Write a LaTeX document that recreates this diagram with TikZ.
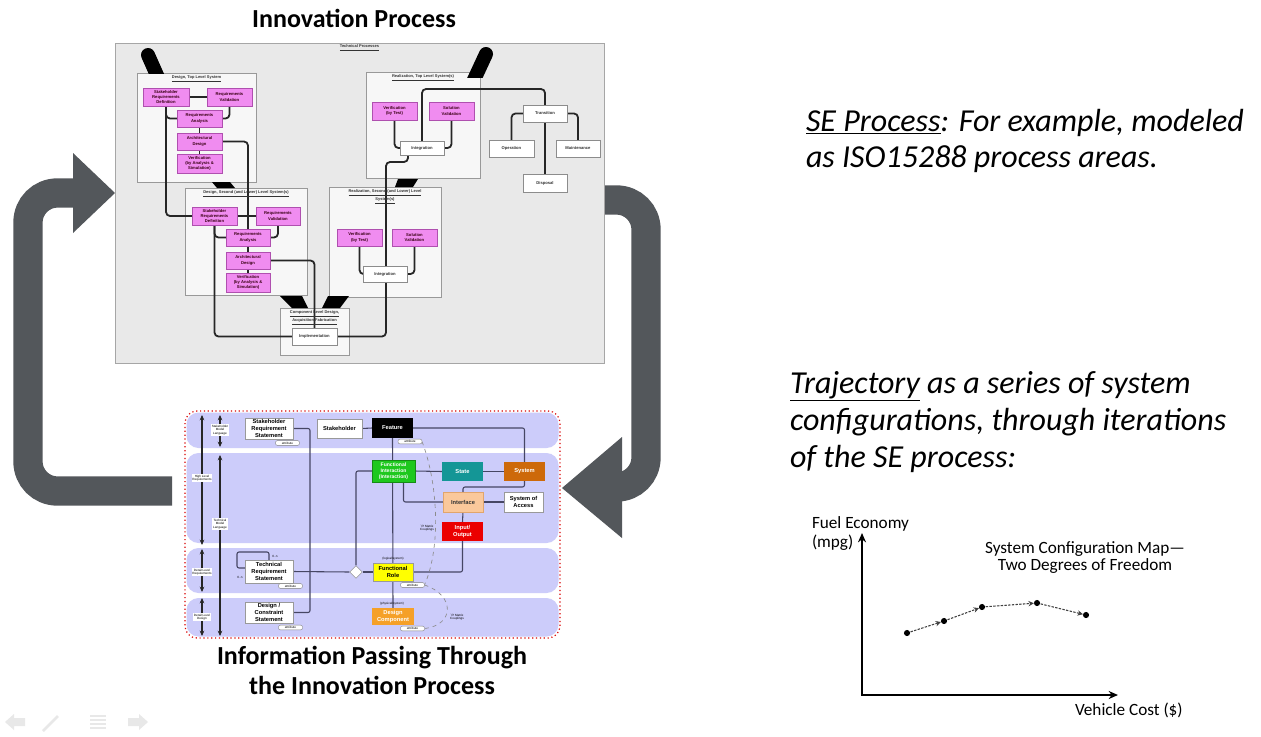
\documentclass[tikz,border=0pt]{standalone}
\usepackage{fontspec}
\setmainfont{Carlito}
\newfontfamily\arialf{Liberation Sans}
\usetikzlibrary{arrows.meta,calc,shapes.geometric}
\pgfdeclarelayer{back}
\pgfdeclarelayer{links}
\pgfsetlayers{back,links,main}
\definecolor{arrowgray}{RGB}{83,87,91}
\definecolor{pinkc}{RGB}{240,140,240}
\definecolor{pinkd}{RGB}{175,80,175}
\definecolor{panelc}{RGB}{233,233,233}
\definecolor{subc}{RGB}{247,247,247}
\definecolor{lav}{RGB}{204,204,250}
\definecolor{linkb}{RGB}{70,70,100}
\definecolor{fgreen}{RGB}{30,200,30}
\definecolor{fteal}{RGB}{20,150,150}
\definecolor{forange}{RGB}{205,105,10}
\definecolor{fpeach}{RGB}{250,200,155}
\definecolor{fred}{RGB}{235,0,0}
\definecolor{fyellow}{RGB}{255,255,0}
\definecolor{fdc}{RGB}{245,160,40}
\newcommand{\bx}[7]{\node[#6, minimum width={(#4-#2)*0.75pt}, minimum height={(#5-#3)*0.75pt}] (#1) at ({(#2+#4)/2},{(#3+#5)/2}) {#7};}
\newcommand{\ttiny}{\arialf\bfseries\fontsize{3.1}{3.9}\selectfont}
\newcommand{\ttitle}{\arialf\bfseries\fontsize{3.0}{3.6}\selectfont}
\newcommand{\tsmall}{\arialf\bfseries\fontsize{4.3}{5.0}\selectfont}
\newcommand{\tmicro}{\arialf\fontsize{2.3}{2.7}\selectfont}
\begin{document}
\begin{tikzpicture}[x=0.75pt,y=-0.75pt,
  box/.style={inner sep=0pt,outer sep=0pt,align=center},
  panel/.style={box,draw=black!35,fill=panelc,line width=0.6pt},
  sub/.style={box,draw=black!40,fill=subc,line width=0.5pt},
  pk/.style={box,draw=pinkd,fill=pinkc,line width=0.4pt,font=\ttiny,text=black!70!purple},
  wt/.style={box,draw=black!45,fill=white,line width=0.5pt,font=\ttiny,text=black!80},
  ptitle/.style={box,font=\ttitle,text=black!80,anchor=north},
  link/.style={draw=black!85,line width=1.35pt,rounded corners=3pt},
  bigarrow/.style={draw=arrowgray,line width=22pt,rounded corners=22pt},
  bnode/.style={box,line width=0.5pt,font=\tsmall},
  blink/.style={draw=linkb,line width=0.8pt,rounded corners=1.5pt},
  tag/.style={box,draw=black!50,fill=white,rounded corners=1.5pt,line width=0.3pt,font=\tmicro,minimum width=18pt,minimum height=3.6pt},
  lbl/.style={box,fill=white,font=\tmicro,inner sep=0.7pt},
  vax/.style={draw=black!85,line width=0.9pt,{Stealth[length=4pt,width=3.5pt]}-{Stealth[length=4pt,width=3.5pt]}},
  traj/.style={draw=black!75,line width=0.8pt,dash pattern=on 1.8pt off 1pt,-{Stealth[length=4pt,width=4pt]},shorten >=2.4pt},
  txt/.style={inner sep=0pt,outer sep=0pt},
]
\useasboundingbox (0,0) rectangle (1261,736);

% ---------- headings ----------
\node[txt,anchor=base,font=\bfseries\fontsize{19.5}{22}\selectfont] (h1) at (354,27) {Innovation Process};
\node[txt,anchor=base,font=\bfseries\fontsize{19.5}{22}\selectfont] (h2) at (372,664) {Information Passing Through};
\node[txt,anchor=base,font=\bfseries\fontsize{19.5}{22}\selectfont] (h3) at (372,694) {the Innovation Process};

% ---------- big arrows and panels ----------
\begin{pgfonlayer}{back}
\fill[white] (0,0) rectangle (1261,736);
\draw[bigarrow] (172,491) -- (28,491) -- (28,193) -- (80,193);
\fill[arrowgray] (73,153) -- (115,193) -- (73,233) -- cycle;
\draw[bigarrow] (603,200) -- (646,200) -- (646,487) -- (605,487);
\fill[arrowgray] (622,437) -- (562,488) -- (622,538) -- cycle;

\bx{tp}{115}{43}{604}{363}{panel}{}
\bx{dtop}{137}{73}{256}{182}{sub}{}
\bx{dsec}{185}{188}{307}{295}{sub}{}
\bx{rtop}{366}{72}{480}{178}{sub}{}
\bx{rsec}{329}{187}{441}{297}{sub}{}
\bx{comp}{280}{308}{349}{355}{sub}{}

% bottom diagram lanes
\fill[white,rounded corners=9pt] (185,411) rectangle (560,638);
\fill[lav,rounded corners=9pt] (186.5,412.5) rectangle (558.5,448);
\fill[lav,rounded corners=9pt] (186.5,453) rectangle (558.5,543);
\fill[lav,rounded corners=9pt] (186.5,548) rectangle (558.5,593);
\fill[lav,rounded corners=9pt] (186.5,598) rectangle (558.5,636.5);
\draw[red!85!black,dotted,line width=0.9pt,rounded corners=9pt] (185,411) rectangle (560,638);
\end{pgfonlayer}

% panel titles
\node[ptitle] (t0) at (359.5,45) {\underline{Technical Processes}};
\node[ptitle] (t1) at (196.5,76) {\underline{Design, Top Level System}};
\node[ptitle] (t2) at (246,191) {\underline{Design, Second (and Lower) Level System(s)}};
\node[ptitle] (t3) at (423,75) {\underline{Realization, Top Level System(s)}};
\node[ptitle] (t4) at (385,190) {\underline{Realization, Second (and Lower) Level}\\\underline{System(s)}};
\node[ptitle] (t5) at (314.5,311) {\underline{Component Level Design,}\\\underline{Acquisition/Fabrication}};

% process boxes
\bx{srd1}{143}{88}{189}{106}{pk}{Stakeholder\\Requirements\\Definition}
\bx{rv1}{207}{88}{252}{106}{pk}{Requirements\\Validation}
\bx{ra1}{177}{110}{222}{127}{pk}{Requirements\\Analysis}
\bx{ad1}{177}{133}{222}{150}{pk}{Architectural\\Design}
\bx{vf1}{177}{154}{222}{173}{pk}{Verification\\(by Analysis \&\\Simulation)}
\bx{srd2}{192}{207}{237}{225}{pk}{Stakeholder\\Requirements\\Definition}
\bx{rv2}{256}{207}{300}{225}{pk}{Requirements\\Validation}
\bx{ra2}{226}{229}{270}{246}{pk}{Requirements\\Analysis}
\bx{ad2}{226}{252}{270}{269}{pk}{Architectural\\Design}
\bx{vf2}{226}{273}{270}{292}{pk}{Verification\\(by Analysis \&\\Simulation)}
\bx{vt1}{372}{102}{417}{120}{pk}{Verification\\(by Test)}
\bx{sv1}{429}{102}{474}{120}{pk}{Solution\\Validation}
\bx{int1}{400}{141}{444}{155}{wt}{Integration}
\bx{trans}{523}{105}{567}{122}{wt}{Transition}
\bx{op}{489}{140}{534}{157}{wt}{Operation}
\bx{mt}{556}{140}{600}{157}{wt}{Maintenance}
\bx{disp}{523}{174}{567}{192}{wt}{Disposal}
\bx{vt2}{337}{229}{382}{246}{pk}{Verification\\(by Test)}
\bx{sv2}{392}{229}{437}{246}{pk}{Solution\\Validation}
\bx{int2}{363}{266}{407}{282}{wt}{Integration}
\bx{impl}{292}{328}{337}{345}{wt}{Implementation}

\begin{pgfonlayer}{links}
\draw[link] (srd1.east) -- (rv1.west);
\draw[link] (srd1.south) |- (ra1.west);
\draw[link] (rv1.south) |- (ra1.east);
\draw[link] (ra1.south) -- (ad1.north);
\draw[link] (ad1.south) -- (vf1.north);
\draw[link] (srd1.south) |- (srd2.west);
\draw[link] (ad1.east) -| (ra2.north);
\draw[link] (srd2.east) -- (rv2.west);
\draw[link] (srd2.south) |- (ra2.west);
\draw[link] (rv2.south) |- (ra2.east);
\draw[link] (ra2.south) -- (ad2.north);
\draw[link] (ad2.south) -- (vf2.north);
\draw[link] (srd2.south) |- (impl.west);
\draw[link] (ad2.east) -| (impl.north);
\coordinate (up1) at (386,162);
\draw[link] (impl.east) -| (up1) -| ($(int1.south west)+(8,0)$);
\draw[link] (vt1.south) |- (int1.west);
\draw[link] (sv1.south) |- (int1.east);
\coordinate (tt) at (545,89);
\draw[link] (int1.north) |- (tt) -- (trans.north);
\draw[link] (trans.west) -| (op.north);
\draw[link] (trans.east) -| (mt.north);
\draw[link] (trans.south) -- (disp.north);
\draw[link] (vt2.south) |- (int2.west);
\draw[link] (sv2.south) |- (int2.east);
% black funnels
\begin{scope}
\clip (120,44) rectangle (200,73);
\draw[line width=10.5pt,line cap=round] (148,55) -- (160,82);
\end{scope}
\begin{scope}
\clip (440,44) rectangle (520,77);
\draw[line width=10.5pt,line cap=round] (486,54) -- (473,82);
\end{scope}
\fill (212,182) -- (230,182) -- (235,188) -- (217,188) -- cycle;
\fill (398,179) -- (418,179) -- (413,187) -- (395,187) -- cycle;
\fill (280,296) -- (302,296) -- (308,308) -- (292,308) -- cycle;
\fill (328,296) -- (349,296) -- (340,308) -- (322,308) -- cycle;
\end{pgfonlayer}

% ---------- bottom diagram ----------
\bx{srs}{245}{418}{293}{439}{bnode,draw=black!40,fill=white}{Stakeholder\\Requirement\\Statement}
\bx{sth}{317}{419}{362}{438}{bnode,draw=black!40,fill=white}{Stakeholder}
\bx{feat}{372}{418}{413}{438}{bnode,fill=black,text=white}{Feature}
\bx{fi}{372}{460}{415}{482}{bnode,fill=fgreen,draw=fgreen!70!black,text=white,font=\arialf\bfseries\fontsize{3.8}{4.6}\selectfont}{Functional\\Interaction\\(Interaction)}
\bx{state}{442}{462}{483}{481}{bnode,fill=fteal,text=white}{State}
\bx{sys}{504}{462}{545}{481}{bnode,fill=forange,text=white}{System}
\bx{intf}{443}{492}{483}{512}{bnode,fill=fpeach,draw=forange!60,text=black!80}{Interface}
\bx{soa}{504}{492}{543}{512}{bnode,fill=white,draw=black!40}{System of\\Access}
\bx{io}{442}{522}{483}{541}{bnode,fill=fred,text=white}{Input/\\Output}
\bx{fr}{373}{563}{413}{581}{bnode,fill=fyellow,draw=black!40}{Functional\\Role}
\bx{trs}{245}{560}{293}{583}{bnode,fill=white,draw=black!40}{Technical\\Requirement\\Statement}
\bx{dcs}{245}{602}{293}{623}{bnode,fill=white,draw=black!40}{Design /\\Constraint\\Statement}
\bx{dc}{372}{608}{414}{625}{bnode,fill=fdc,text=white}{Design\\Component}
\node[diamond,draw=black!40,fill=white,minimum size=9.5pt,inner sep=0pt] (dm) at (356,572) {};

\node[tag] (tgs) at (287.5,443) {attribute};
\node[tag] (tgf) at (410,441.5) {attribute};
\node[tag] (tgt) at (290.5,586) {attribute};
\node[tag] (tgd) at (290.5,627.5) {attribute};
\node[tag] (tgr) at (412.5,585) {attribute};
\node[tag] (tgc) at (412.5,628.5) {attribute};

\node[txt,font=\tmicro] (lg) at (393,558.5) {(logical/system)};
\node[txt,font=\tmicro] (ph) at (392,603.5) {(physical/system)};
\node[txt,font=\tmicro] (m1) at (275,556) {0..n};
\node[txt,font=\tmicro] (m2) at (240,577) {0..n};
\node[txt,font=\tmicro,align=center] (rm1) at (427,528) {`R' Matrix\\Couplings};
\node[txt,font=\tmicro,align=center] (rm2) at (457,617) {`R' Matrix\\Couplings};

\begin{pgfonlayer}{links}
\coordinate (bx1) at (310,520);
\draw[blink] (srs.east) -| (bx1) |- (dcs.east);
\draw[blink] (sth.east) -- (feat.west);
\draw[blink] (feat.east) -| (sys.north);
\draw[blink] (feat.south) -- (dc.north);
\draw[blink] (fi.west) -| (dm.north);
\draw[blink] (fi.east) -- (state.west);
\draw[blink] (state.east) -- (sys.west);
\draw[blink] (sys.south) |- ($(intf.north)+(0,-5)$) -- (intf.north);
\draw[blink] ($(fi.south)+(10,0)$) |- (intf.west);
\draw[blink] (intf.east) -- (soa.west);
\draw[blink] (intf.south) -- (io.north);
\draw[blink] (io.south) |- (fr.east);
\draw[blink] (trs.east) -- (dm.west);
\draw[blink] (dm.east) -- (fr.west);
\draw[blink] ($(trs.west)+(0,-3.5)$) -| (237,552) -| (trs.north);
\draw[black!45,dashed,line width=0.5pt] (tgf.east) .. controls (437,480) and (442,545) .. (tgr.east);
\draw[black!45,dashed,line width=0.5pt] (tgr.east) .. controls (455,595) and (455,625) .. (tgc.east);
% level arrows
\coordinate (a1) at (202,415); \coordinate (a2) at (202,545);
\coordinate (a3) at (202,549); \coordinate (a4) at (202,592);
\coordinate (a5) at (202,598); \coordinate (a6) at (202,636);
\coordinate (b1) at (220,415); \coordinate (b2) at (220,447);
\coordinate (b3) at (220,455); \coordinate (b4) at (220,636);
\draw[vax] (a1) -- (a2);
\draw[vax] (a3) -- (a4);
\draw[vax] (a5) -- (a6);
\draw[vax] (b1) -- (b2);
\draw[vax] (b3) -- (b4);
\end{pgfonlayer}
\node[lbl,align=center] (l1) at (202,478) {High Level\\Requirements};
\node[lbl,align=center] (l2) at (202,572) {Detail Level\\Requirements};
\node[lbl,align=center] (l3) at (202,617) {Detail Level\\Design};
\node[lbl,align=center] (l4) at (220,430) {Stakeholder\\Model\\Language};
\node[lbl,align=center] (l5) at (220,524) {Technical\\Model\\Language};

% ---------- right texts ----------
\node[txt,anchor=base west,font=\itshape\fontsize{24}{28}\selectfont] (se1) at (806,131) {\underline{SE Process}: For example, modeled};
\node[txt,anchor=base west,font=\itshape\fontsize{24}{28}\selectfont] (se2) at (806,167) {as ISO15288 process areas.};
\node[txt,anchor=base west,font=\itshape\fontsize{24}{28}\selectfont] (tr1) at (790,393) {\underline{Trajectory} as a series of system};
\node[txt,anchor=base west,font=\itshape\fontsize{24}{28}\selectfont] (tr2) at (790,430) {configurations, through iterations};
\node[txt,anchor=base west,font=\itshape\fontsize{24}{28}\selectfont] (tr3) at (790,467) {of the SE process:};

% ---------- graph ----------
\coordinate (O) at (862,695);
\coordinate (Y) at (862,533);
\coordinate (X) at (1118,695);
\draw[line width=1.9pt,{Stealth[length=7pt,width=6pt]}-{Stealth[length=7pt,width=6pt]}] (Y) -- (O) -- (X);
\coordinate (p1) at (907,633);
\coordinate (p2) at (944,621);
\coordinate (p3) at (982,607);
\coordinate (p4) at (1037,603);
\coordinate (p5) at (1086,615);
\draw[traj] (p1) -- (p2);
\draw[traj] (p2) -- (p3);
\draw[traj] (p3) -- (p4);
\draw[traj] (p4) -- (p5);
\foreach \p in {p1,p2,p3,p4,p5} \fill (\p) circle[radius=2.3pt];
\node[txt,anchor=base west,font=\fontsize{12.9}{15}\selectfont] (fe) at (812,528) {Fuel Economy};
\node[txt,anchor=base west,font=\fontsize{12.9}{15}\selectfont] (mpg) at (812,547) {(mpg)};
\node[txt,anchor=base,font=\fontsize{12.9}{15}\selectfont] (sc1) at (1085,553) {System Configuration Map---};
\node[txt,anchor=base,font=\fontsize{12.9}{15}\selectfont] (sc2) at (1085,570) {Two Degrees of Freedom};
\node[txt,anchor=base west,font=\fontsize{12.9}{15}\selectfont] (vc) at (1075,715) {Vehicle Cost (\$)};

% ---------- faint navigation icons ----------
\fill[black!9] (5,722) -- (14,714) -- (14,718) -- (25,718) -- (25,726) -- (14,726) -- (14,730) -- cycle;
\draw[black!9,line width=2pt] (43,731) -- (58,716);
\foreach \yy in {716,720,724,728} \draw[black!9,line width=1.6pt] (90,\yy) -- (106,\yy);
\fill[black!9] (148,722) -- (139,714) -- (139,718) -- (128,718) -- (128,726) -- (139,726) -- (139,730) -- cycle;
\end{tikzpicture}
\end{document}
